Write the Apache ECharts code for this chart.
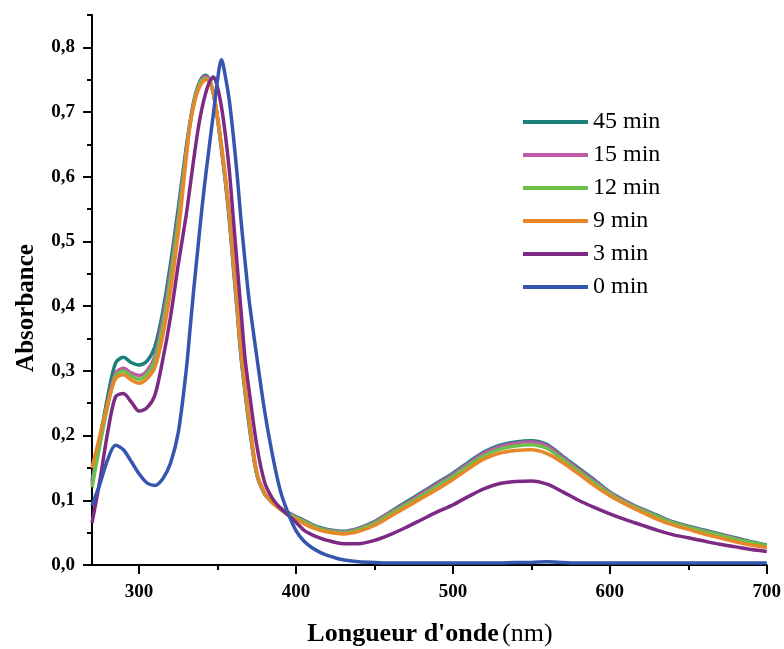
<!DOCTYPE html>
<html><head><meta charset="utf-8">
<script src="https://cdn.jsdelivr.net/npm/echarts@6/dist/echarts.min.js"></script>
<style>html,body{margin:0;padding:0;background:#fff}#c{width:784px;height:649px}</style>
</head><body><div id="c"></div>
<script>
const wavelengths = [270,275,280,285,290,295,300,305,310,315,320,325,330,
  332.5,335,337.5,340,342.5,345,347.5,350,352.5,355,357.5,360,362.5,365,367.5,
  370,375,380,385,390,395,400,405,410,415,420,
  430,440,450,460,470,480,490,500,510,520,530,540,550,560,570,580,590,600,610,620,630,640,650,660,670,680,690,700];

const abs45 = [.130,.195,.260,.312,.321,.313,.309,.315,.337,.390,.465,.552,.645,
  .685,.718,.740,.753,.757,.749,.728,.690,.642,.592,.533,.462,.392,.320,.268,
  .218,.140,.110,.097,.088,.081,.075,.069,.063,.058,.055,
  .052,.057,.067,.082,.097,.112,.127,.142,.159,.175,.185,.190,.192,.186,.168,.150,.132,.113,.099,.087,.077,.067,.060,.054,.048,.042,.036,.031];

const abs15 = [.125,.190,.250,.296,.304,.297,.293,.300,.322,.378,.452,.540,.640,
  .683,.716,.738,.751,.755,.748,.727,.690,.645,.595,.538,.467,.397,.325,.270,
  .222,.141,.110,.097,.088,.080,.074,.068,.062,.057,.054,
  .051,.056,.066,.081,.095,.110,.125,.140,.157,.173,.183,.188,.190,.184,.166,.148,.130,.112,.098,.086,.076,.066,.059,.053,.047,.041,.035,.030];

const abs12 = [.120,.185,.245,.292,.300,.292,.287,.295,.315,.367,.440,.530,.635,
  .682,.714,.736,.749,.752,.748,.727,.691,.646,.597,.541,.470,.400,.328,.272,
  .225,.142,.111,.096,.087,.079,.073,.067,.061,.056,.053,
  .050,.055,.064,.079,.093,.107,.122,.137,.154,.169,.179,.184,.186,.180,.163,.145,.127,.110,.096,.085,.075,.065,.058,.052,.046,.040,.035,.030];

const abs9 = [.150,.200,.250,.288,.294,.286,.281,.288,.305,.353,.423,.513,.628,
  .680,.712,.733,.745,.750,.747,.727,.693,.648,.600,.545,.475,.404,.332,.278,
  .229,.143,.112,.096,.086,.077,.071,.064,.058,.054,.051,
  .048,.052,.061,.075,.089,.103,.117,.132,.149,.164,.173,.177,.178,.172,.158,.141,.123,.107,.094,.082,.071,.062,.055,.048,.042,.036,.031,.027];

const abs3 = [.065,.130,.205,.260,.265,.252,.238,.243,.262,.316,.383,.465,.540,
  .585,.630,.672,.705,.730,.747,.754,.738,.708,.665,.610,.537,.464,.392,.320,
  .272,.185,.128,.103,.088,.077,.066,.054,.047,.042,.038,
  .033,.033,.038,.047,.058,.070,.082,.093,.106,.118,.126,.129,.130,.125,.113,.100,.089,.079,.070,.062,.054,.047,.042,.037,.032,.028,.024,.021];

const abs0 = [.092,.125,.163,.185,.178,.160,.141,.127,.123,.133,.157,.205,.300,
  .365,.430,.490,.550,.603,.652,.700,.750,.781,.755,.718,.665,.603,.532,.470,
  .412,.322,.238,.170,.115,.080,.053,.037,.027,.020,.015,
  .008,.005,.004,.003,.003,.003,.003,.003,.003,.003,.003,.004,.004,.005,.004,.003,.003,.003,.003,.003,.003,.003,.003,.003,.003,.003,.003,.003];

const seriesNames = ['45 min','15 min','12 min','9 min','3 min','0 min'];
const seriesData = [abs45, abs15, abs12, abs9, abs3, abs0];
const seriesColors = ['#1b7f7a','#c05aa8','#6cc04a','#e8862a','#7d2a84','#3556ae'];

const xMajor = [300,400,500,600,700];
const xMinor = [350,450,550,650];
const yMajor = [0,0.1,0.2,0.3,0.4,0.5,0.6,0.7,0.8];
const yMinor = [0.05,0.15,0.25,0.35,0.45,0.55,0.65,0.75,0.85];

const serif = 'Liberation Serif';
const chart = echarts.init(document.getElementById('c'), null, {renderer:'canvas'});

const lineAxis = {show:true, lineStyle:{color:'#000', width:2}};
const series = seriesNames.map((n,i)=>({
  name:n, type:'line', xAxisIndex:0, yAxisIndex:0,
  data: wavelengths.map((w,k)=>[w, seriesData[i][k]]),
  showSymbol:false, smooth:0.3,
  lineStyle:{width:3.5, color:seriesColors[i]},
  itemStyle:{color:seriesColors[i]},
  z: 2 + i
}));

chart.setOption({
  animation:false,
  backgroundColor:'#fff',
  grid:{left:92, right:17, top:15, bottom:84, containLabel:false},
  xAxis:[{
    type:'value', min:270, max:700,
    axisLine: lineAxis,
    axisTick:{show:true, customValues:xMajor, length:9, lineStyle:{color:'#000', width:2}},
    axisLabel:{customValues:xMajor, margin:18, color:'#000', fontFamily:serif, fontWeight:'bold', fontSize:19},
    splitLine:{show:false}
  },{
    type:'value', min:270, max:700, position:'bottom',
    axisLine:{show:false},
    axisTick:{show:true, customValues:xMinor, length:5, lineStyle:{color:'#000', width:2}},
    axisLabel:{show:false}, splitLine:{show:false}
  }],
  yAxis:[{
    type:'value', min:0, max:0.85,
    axisLine: lineAxis,
    axisTick:{show:true, customValues:yMajor, length:9, lineStyle:{color:'#000', width:2}},
    axisLabel:{customValues:yMajor, margin:17, color:'#000', fontFamily:serif, fontWeight:'bold', fontSize:19,
      formatter:v=>v.toFixed(1).replace('.',',')},
    splitLine:{show:false}
  },{
    type:'value', min:0, max:0.85, position:'left',
    axisLine:{show:false},
    axisTick:{show:true, customValues:yMinor, length:5, lineStyle:{color:'#000', width:2}},
    axisLabel:{show:false}, splitLine:{show:false}
  }],
  legend:{
    orient:'vertical', left:523, top:110, padding:0,
    data: seriesNames,
    icon:'rect', itemWidth:65, itemHeight:4, itemGap:9,
    textStyle:{fontFamily:serif, fontSize:24, color:'#000'}
  },
  graphic:[{
    type:'text', x:27, y:308, rotation:Math.PI/2,
    style:{text:'Absorbance', font:'bold 25px "Liberation Serif"', fill:'#000', align:'center', verticalAlign:'middle'}
  },{
    type:'text', x:430, y:634,
    style:{text:"{b|Longueur d'onde} {n|(nm)}", align:'center', verticalAlign:'middle', fill:'#000',
      rich:{b:{font:'bold 26px "Liberation Serif"', fill:'#000'}, n:{font:'26px "Liberation Serif"', fill:'#000'}}}
  }],
  series: series
});
</script></body></html>
